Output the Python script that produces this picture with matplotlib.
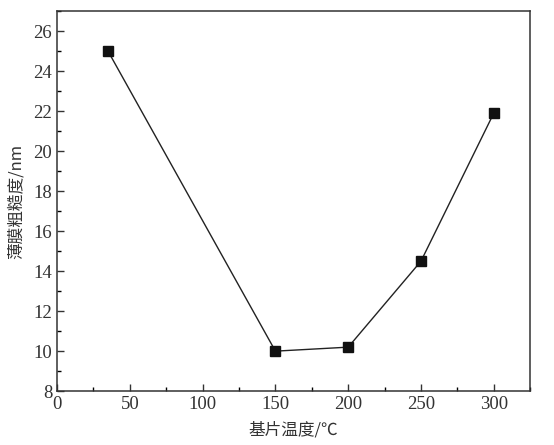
import numpy as np
import matplotlib.pyplot as plt
from matplotlib.ticker import MultipleLocator

temp = [35, 150, 200, 250, 300]
roughness = [25.0, 10.0, 10.2, 14.5, 21.9]

plt.rcParams['font.family'] = ['Liberation Serif', 'Noto Sans CJK SC']
plt.rcParams['xtick.direction'] = 'in'
plt.rcParams['ytick.direction'] = 'in'

fig = plt.figure(figsize=(5.54, 4.45), dpi=100)
ax = fig.add_axes([0.103, 0.121, 0.854, 0.854])

ax.plot(temp, roughness, color='#222222', lw=1.0, marker='s', ms=7.5,
        markerfacecolor='#111111', markeredgecolor='#111111')

ax.set_xlim(0, 325)
ax.set_ylim(8, 27)
ax.xaxis.set_major_locator(MultipleLocator(50))
ax.xaxis.set_minor_locator(MultipleLocator(25))
ax.yaxis.set_major_locator(MultipleLocator(2))
ax.yaxis.set_minor_locator(MultipleLocator(1))
ax.tick_params(which='major', length=5, width=1, labelsize=13.5, colors='#333333')
ax.tick_params(which='minor', length=3, width=1)
for s in ax.spines.values():
    s.set_linewidth(1.1)
    s.set_color('#333333')

ax.set_xlabel('基片温度/℃', fontsize=12, color='#333333', labelpad=6,
              family=['Noto Sans CJK SC', 'DejaVu Sans'])
ax.set_ylabel('薄膜粗糙度/nm', fontsize=12, color='#333333', labelpad=6,
              family=['Noto Sans CJK SC', 'DejaVu Sans'])

fig.savefig('out.png', dpi=100)
